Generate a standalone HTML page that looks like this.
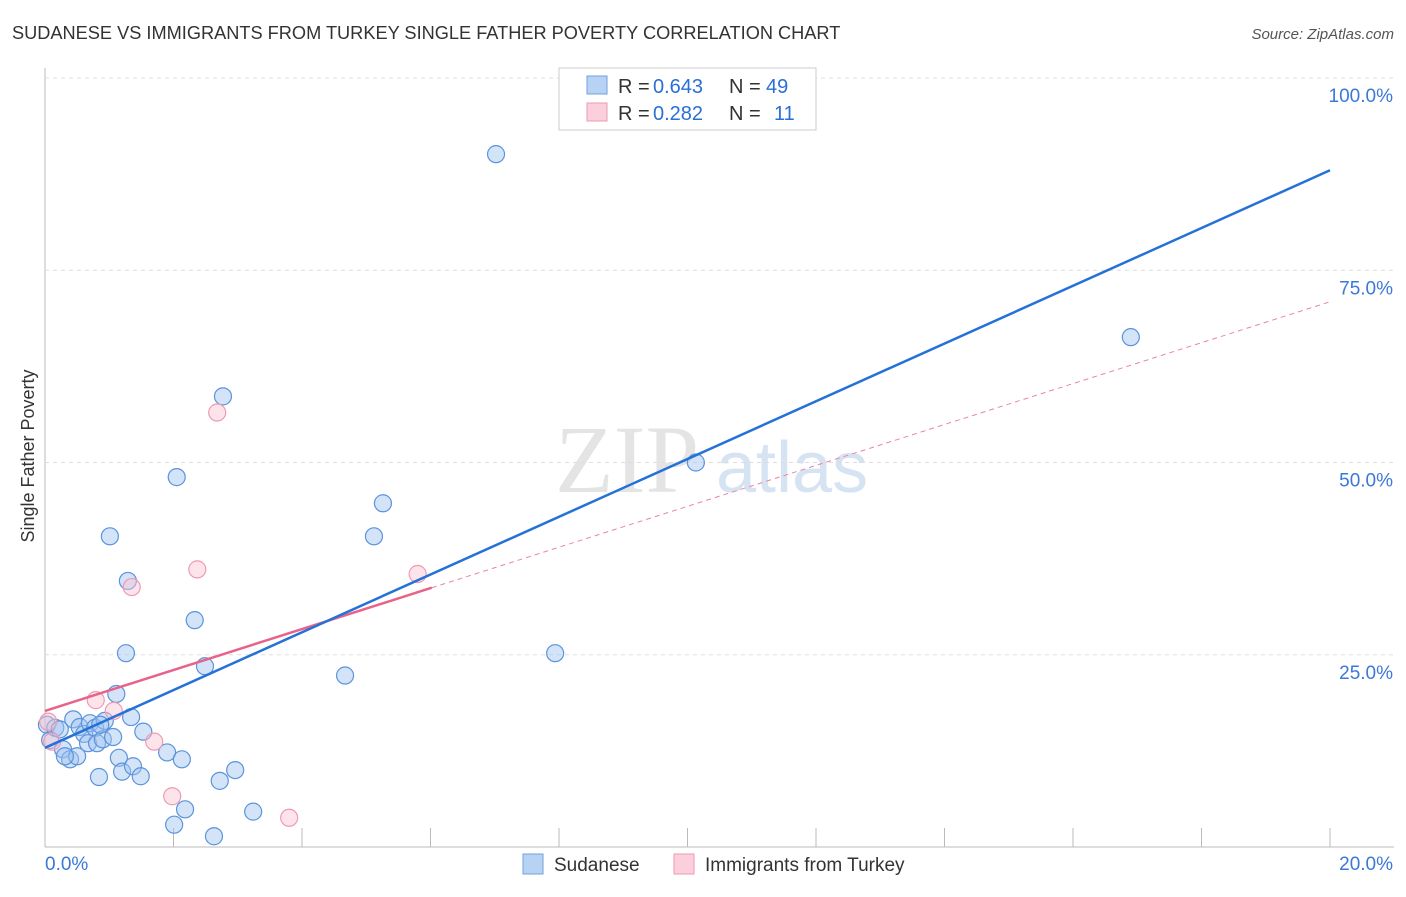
<!DOCTYPE html>
<html><head><meta charset="utf-8"><style>
body{margin:0;background:#fff;font-family:"Liberation Sans",sans-serif}
</style></head><body>
<svg id="c" width="1406" height="892" xmlns="http://www.w3.org/2000/svg">
<text x="12" y="39" font-size="18.2" fill="#333">SUDANESE VS IMMIGRANTS FROM TURKEY SINGLE FATHER POVERTY CORRELATION CHART</text>
<text x="1394" y="39" font-size="15" fill="#555" text-anchor="end" font-style="italic">Source: ZipAtlas.com</text>
<text x="555" y="492" font-size="96" fill="#e4e4e4" font-family="Liberation Serif">ZIP</text>
<text x="716" y="492" font-size="72" fill="#d6e3f3">atlas</text>
<text transform="translate(34,456) rotate(-90)" font-size="18" fill="#333" text-anchor="middle">Single Father Poverty</text>
<g id="grid"></g><g id="marks"></g>
<g>
<rect x="559" y="68" width="257" height="62" fill="#fff" stroke="#ccc"/>
<rect x="587" y="76" width="20" height="18" fill="#b8d2f4" stroke="#6fa0e0"/>
<rect x="587" y="103" width="20" height="18" fill="#fbd0dc" stroke="#ee9ab3"/>
<text x="618" y="93" font-size="20" fill="#333">R =</text>
<text x="653" y="93" font-size="20" fill="#2a6fd6">0.643</text>
<text x="729" y="93" font-size="20" fill="#333">N =</text>
<text x="766" y="93" font-size="20" fill="#2a6fd6">49</text>
<text x="618" y="120" font-size="20" fill="#333">R =</text>
<text x="653" y="120" font-size="20" fill="#2a6fd6">0.282</text>
<text x="729" y="120" font-size="20" fill="#333">N =</text>
<text x="774" y="120" font-size="20" fill="#2a6fd6">11</text>
</g>
<g>
<rect x="523" y="854" width="20" height="20" fill="#b8d2f4" stroke="#6fa0e0"/>
<text x="554" y="871" font-size="19" fill="#333">Sudanese</text>
<rect x="674" y="854" width="20" height="20" fill="#fbd0dc" stroke="#ee9ab3"/>
<text x="705" y="871" font-size="19" fill="#333">Immigrants from Turkey</text>
</g>
</svg>
<script>
const xTicks=[0,20];
const yTicks=[25,50,75,100];
const blueX=[0.03,0.08,0.16,0.23,0.28,0.39,0.44,0.5,0.54,0.61,0.67,0.7,0.78,0.81,0.84,0.9,0.93,1.01,1.06,1.11,1.15,1.2,1.26,1.29,1.34,1.37,1.49,1.53,1.9,2.01,2.05,2.13,2.18,2.33,2.49,2.63,2.72,2.77,2.96,3.24,4.67,5.12,5.26,7.02,7.94,10.13,16.9,0.31,0.86];
const blueY=[15.9,13.9,15.5,15.3,12.7,11.4,16.6,11.8,15.6,14.7,13.5,16.1,15.5,13.5,9.1,14.0,16.4,40.4,14.3,19.9,11.6,9.8,25.2,34.6,16.9,10.5,9.2,15.0,12.3,2.9,48.1,11.4,4.9,29.5,23.5,1.4,8.6,58.6,10.0,4.6,22.3,40.4,44.7,90.1,25.2,50.0,66.3,11.8,15.9];
const pinkX=[0.05,0.11,0.79,1.07,1.35,1.7,1.98,2.37,2.68,3.8,5.8];
const pinkY=[16.3,13.7,19.1,17.7,33.8,13.7,6.6,36.1,56.5,3.8,35.5];
const blueFit=[12.9,88.0];
const pinkFit=[17.7,70.9];
const X=v=>45+v*64.25, Y=v=>847-v*7.69;
const NS="http://www.w3.org/2000/svg";
function mk(t,a,p){const e=document.createElementNS(NS,t);for(const k in a)e.setAttribute(k,a[k]);p.appendChild(e);return e;}
const g=document.getElementById('grid'),m=document.getElementById('marks');
mk('line',{x1:45,y1:847,x2:1394,y2:847,stroke:'#bbb'},g);
mk('line',{x1:45,y1:68,x2:45,y2:847,stroke:'#bbb'},g);
for(let i=1;i<=10;i++){const l=mk('line',{x1:X(i*2),x2:X(i*2),y1:828,y2:847,stroke:'#bbb'},g);}
yTicks.forEach(v=>{const l=mk('line',{x1:45,x2:1394,y1:Y(v),y2:Y(v),stroke:'#ddd','stroke-dasharray':'4,4'},g);


const t=mk('text',{x:1393,y:Y(v)+24,'font-size':19,fill:'#3b78d8','text-anchor':'end'},g);t.textContent=v.toFixed(1)+'%';

});
xTicks.forEach((v,i)=>{const t=mk('text',{x:i?1393:45,y:870,'font-size':19,fill:'#3b78d8','text-anchor':i?'end':'start'},g);t.textContent=v.toFixed(1)+'%';

});
blueX.forEach((x,i)=>{const c=mk('circle',{cx:X(x),cy:Y(blueY[i]),r:8.5,fill:'rgba(160,195,240,0.45)',stroke:'#5b93dc','stroke-width':1.2},m);

});
pinkX.forEach((x,i)=>{const c=mk('circle',{cx:X(x),cy:Y(pinkY[i]),r:8.5,fill:'rgba(250,195,210,0.45)',stroke:'#ee9ab3','stroke-width':1.2},m);

});
const pAt=x=>pinkFit[0]+(pinkFit[1]-pinkFit[0])*x/20;
let l=mk('line',{x1:X(6.02),y1:Y(pAt(6.02)),x2:X(20),y2:Y(pinkFit[1]),stroke:'#e8879f','stroke-width':1,'stroke-dasharray':'5,4'},m);


l=mk('line',{x1:X(0),y1:Y(pinkFit[0]),x2:X(6.02),y2:Y(pAt(6.02)),stroke:'#e8638a','stroke-width':2.5},m);


l=mk('line',{x1:X(0),y1:Y(blueFit[0]),x2:X(20),y2:Y(blueFit[1]),stroke:'#2471d8','stroke-width':2.5},m);


</script>
</body></html>
